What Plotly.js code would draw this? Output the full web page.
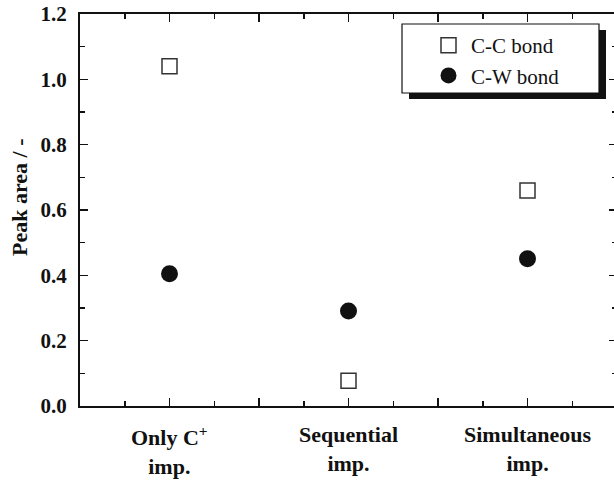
<!DOCTYPE html>
<html>
<head>
<meta charset="utf-8">
<script src="https://cdn.plot.ly/plotly-3.0.1.min.js"></script>
<style>html,body{margin:0;padding:0;overflow:hidden;background:#fff;}</style>
</head>
<body>
<div id="chart"></div>
<script>
// Data
var categories = ['Only C<sup>+</sup><br>imp.', 'Sequential<br>imp.', 'Simultaneous<br>imp.'];
var categoryPos = [0, 1, 2];
var ccBond = [1.04, 0.077, 0.66];
var cwBond = [0.405, 0.291, 0.451];
var seriesNames = ['C-C bond', 'C-W bond'];
var yTitle = 'Peak area / -';
var yTickVals = [0, 0.2, 0.4, 0.6, 0.8, 1.0, 1.2];
var xTickVals = [-0.5, 0, 0.5, 1, 1.5, 2, 2.5];

var W = 620, H = 481;
var M = {l: 80, r: 3, t: 14, b: 75};
var PW = W - M.l - M.r, PH = H - M.t - M.b;
function px(x){ return (x - M.l) / PW; }
function py(y){ return (H - M.b - y) / PH; }

var FAM = 'Liberation Serif';

var traces = [
  {x: categoryPos, y: ccBond, name: seriesNames[0], type: 'scatter', mode: 'markers',
   marker: {symbol: 'square-open', size: 15, color: '#333', line: {width: 1.5, color: '#333'}}},
  {x: categoryPos, y: cwBond, name: seriesNames[1], type: 'scatter', mode: 'markers',
   marker: {symbol: 'circle', size: 17, color: '#111'}}
];

var annotations = categories.map(function(c, i){
  return {x: categoryPos[i], xref: 'x', y: 0, yref: 'paper', yshift: -14,
          xanchor: 'center', yanchor: 'top', showarrow: false, align: 'center',
          text: c, font: {family: FAM, size: 22, color: '#111', weight: 700}};
});
annotations.push({x: px(19), xref: 'paper', y: py(197), yref: 'paper',
  xanchor: 'center', yanchor: 'middle', showarrow: false, textangle: -90,
  text: yTitle, font: {family: FAM, size: 22, color: '#111', weight: 700}});

var layout = {
  width: W, height: H,
  margin: M,
  font: {family: FAM, color: '#111'},
  paper_bgcolor: '#fff', plot_bgcolor: '#fff',
  showlegend: true,
  xaxis: {
    range: [-0.5, 2.5], tickvals: xTickVals, showticklabels: false,
    ticks: 'inside', ticklen: 8, tickwidth: 1.5, tickcolor: '#111',
    minor: {dtick: 0.25, tick0: 0, ticks: 'inside', ticklen: 5, tickwidth: 1.5, tickcolor: '#111'},
    showline: true, linewidth: 2, linecolor: '#111', mirror: 'allticks',
    showgrid: false, zeroline: false
  },
  yaxis: {
    range: [0, 1.2], tickvals: yTickVals, tickformat: '.1f',
    ticks: 'inside', ticklen: 8, tickwidth: 1.5, tickcolor: '#111',
    minor: {dtick: 0.1, tick0: 0, ticks: 'inside', ticklen: 5, tickwidth: 1.5, tickcolor: '#111'},
    showline: true, linewidth: 2, linecolor: '#111', mirror: 'allticks',
    showgrid: false, zeroline: false,
    tickfont: {family: FAM, size: 21, color: '#111', weight: 700},
    ticklabelstandoff: 7
  },
  legend: {
    x: px(426), y: py(25), xanchor: 'left', yanchor: 'top',
    bgcolor: 'rgba(0,0,0,0)', borderwidth: 0, itemwidth: 35,
    font: {family: FAM, size: 21, color: '#111'}
  },
  annotations: annotations,
  shapes: [
    {type: 'rect', xref: 'paper', yref: 'paper', layer: 'above',
     x0: px(409), x1: px(606), y0: py(30), y1: py(99),
     fillcolor: '#111', line: {width: 0}},
    {type: 'rect', xref: 'paper', yref: 'paper', layer: 'above',
     x0: px(402), x1: px(599), y0: py(24), y1: py(93),
     fillcolor: '#fff', line: {width: 1.2, color: '#111'}}
  ]
};

Plotly.newPlot('chart', traces, layout, {displayModeBar: false, staticPlot: true});
</script>
</body>
</html>
